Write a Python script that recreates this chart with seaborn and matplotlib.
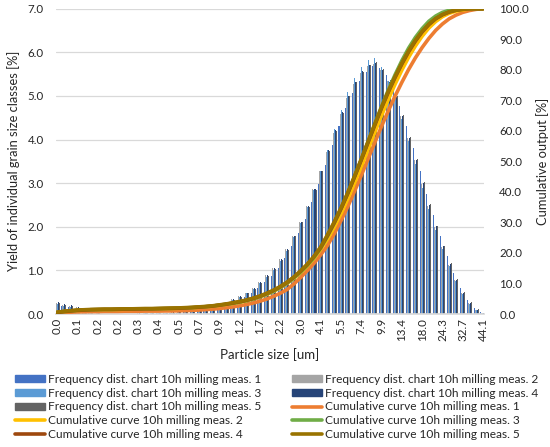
import matplotlib
matplotlib.use('Agg')
import matplotlib.pyplot as plt
import seaborn as sns
import pandas as pd
from matplotlib.patches import Patch
from matplotlib.lines import Line2D

# size classes: 64 classes, a label on every third one
n_classes = 64
size_labels = ['0.0', '0.1', '0.2', '0.2', '0.3', '0.4', '0.5', '0.7', '0.9', '1.2', '1.7',
               '2.2', '3.0', '4.1', '5.5', '7.4', '9.9', '13.4', '18.0', '24.3', '32.7', '44.1']

freq_meas1 = [0.22, 0.18, 0.15, 0.12, 0.06, 0.03, 0.01, 0.01, 0.01, 0.01, 0.01, 0.01, 0.01, 0.01, 0.01, 0.02,
              0.02, 0.02, 0.03, 0.04, 0.05, 0.07, 0.09, 0.12, 0.16, 0.21, 0.26, 0.32, 0.39, 0.48, 0.59, 0.73,
              0.88, 1.06, 1.28, 1.55, 1.85, 2.19, 2.57, 2.98, 3.42, 3.88, 4.32, 4.72, 5.06, 5.34, 5.55, 5.68,
              5.65, 5.48, 5.18, 4.78, 4.30, 3.80, 3.27, 2.76, 2.26, 1.78, 1.33, 0.93, 0.60, 0.33, 0.14, 0.04]
freq_meas2 = [0.26, 0.21, 0.19, 0.15, 0.08, 0.04, 0.02, 0.01, 0.01, 0.01, 0.01, 0.01, 0.02, 0.02, 0.02, 0.03,
              0.03, 0.04, 0.05, 0.06, 0.08, 0.10, 0.13, 0.17, 0.22, 0.28, 0.34, 0.41, 0.49, 0.60, 0.74, 0.90,
              1.06, 1.26, 1.50, 1.80, 2.12, 2.48, 2.86, 3.28, 3.72, 4.16, 4.58, 4.96, 5.28, 5.52, 5.68, 5.74,
              5.60, 5.34, 4.98, 4.54, 4.04, 3.52, 2.99, 2.48, 1.99, 1.54, 1.13, 0.78, 0.48, 0.26, 0.10, 0.03]
freq_meas3 = [0.24, 0.19, 0.17, 0.13, 0.07, 0.03, 0.02, 0.01, 0.01, 0.01, 0.01, 0.01, 0.01, 0.02, 0.02, 0.02,
              0.03, 0.03, 0.04, 0.05, 0.07, 0.09, 0.12, 0.16, 0.21, 0.27, 0.33, 0.40, 0.48, 0.58, 0.71, 0.86,
              1.01, 1.21, 1.45, 1.76, 2.08, 2.45, 2.85, 3.29, 3.76, 4.24, 4.68, 5.08, 5.42, 5.66, 5.82, 5.86,
              5.66, 5.35, 4.95, 4.48, 3.96, 3.43, 2.90, 2.40, 1.92, 1.48, 1.09, 0.75, 0.46, 0.24, 0.09, 0.02]
freq_meas4 = [0.28, 0.22, 0.20, 0.15, 0.08, 0.04, 0.02, 0.01, 0.01, 0.01, 0.01, 0.01, 0.02, 0.02, 0.02, 0.03,
              0.03, 0.04, 0.05, 0.06, 0.08, 0.10, 0.13, 0.17, 0.22, 0.28, 0.34, 0.41, 0.49, 0.59, 0.73, 0.89,
              1.05, 1.25, 1.49, 1.79, 2.11, 2.47, 2.86, 3.29, 3.75, 4.21, 4.63, 5.01, 5.33, 5.57, 5.72, 5.76,
              5.60, 5.33, 4.97, 4.53, 4.03, 3.52, 3.00, 2.50, 2.01, 1.56, 1.15, 0.79, 0.49, 0.26, 0.10, 0.03]
freq_meas5 = [0.25, 0.20, 0.18, 0.14, 0.07, 0.03, 0.02, 0.01, 0.01, 0.01, 0.01, 0.01, 0.01, 0.02, 0.02, 0.02,
              0.03, 0.03, 0.04, 0.05, 0.07, 0.09, 0.12, 0.16, 0.21, 0.27, 0.33, 0.40, 0.48, 0.58, 0.72, 0.88,
              1.03, 1.23, 1.47, 1.78, 2.10, 2.46, 2.85, 3.28, 3.74, 4.20, 4.62, 5.00, 5.32, 5.56, 5.72, 5.78,
              5.62, 5.36, 5.00, 4.56, 4.06, 3.55, 3.02, 2.52, 2.02, 1.57, 1.16, 0.80, 0.50, 0.27, 0.11, 0.03]

cum_meas1 = [0.3, 0.5, 0.6, 0.7, 0.75, 0.8, 0.8, 0.85, 0.85, 0.85, 0.9, 0.9, 0.9, 0.95, 0.95, 0.95,
             1.0, 1.0, 1.05, 1.1, 1.2, 1.3, 1.45, 1.6, 1.8, 2.05, 2.35, 2.7, 3.1, 3.6, 4.2, 4.9,
             5.8, 6.8, 8.0, 9.8, 11.9, 14.2, 16.6, 19.4, 22.5, 26.3, 30.6, 35.2, 40.2, 45.4, 50.8, 56.2,
             61.5, 66.6, 71.4, 75.9, 80.1, 83.9, 87.3, 90.3, 92.9, 95.0, 96.7, 97.9, 98.8, 99.4, 99.8, 100.0]
cum_meas2 = [0.5, 0.8, 1.0, 1.2, 1.3, 1.35, 1.4, 1.45, 1.45, 1.5, 1.55, 1.55, 1.6, 1.65, 1.65, 1.7,
             1.75, 1.8, 1.85, 1.95, 2.05, 2.2, 2.35, 2.55, 2.8, 3.1, 3.45, 3.85, 4.3, 4.9, 5.6, 6.4,
             7.4, 8.6, 10.0, 11.6, 13.5, 15.7, 18.2, 21.2, 24.5, 28.5, 32.9, 37.7, 42.9, 48.3, 53.9, 59.5,
             65.0, 70.3, 75.3, 79.9, 84.1, 87.8, 91.0, 93.7, 95.8, 97.4, 98.5, 99.2, 99.6, 99.9, 100.0, 100.0]
cum_meas3 = [0.5, 0.8, 1.0, 1.2, 1.3, 1.4, 1.45, 1.5, 1.5, 1.55, 1.6, 1.6, 1.65, 1.7, 1.7, 1.75,
             1.8, 1.85, 1.9, 2.0, 2.1, 2.25, 2.4, 2.6, 2.9, 3.2, 3.5, 3.9, 4.4, 5.0, 5.7, 6.5,
             7.5, 8.7, 10.1, 11.8, 13.7, 15.9, 18.5, 21.6, 25.5, 29.8, 34.5, 39.6, 45.0, 50.7, 56.5, 62.3,
             68.0, 73.4, 78.4, 83.0, 87.1, 90.6, 93.5, 95.9, 97.6, 98.8, 99.5, 99.8, 100.0, 100.0, 100.0, 100.0]
cum_meas4 = [0.5, 0.8, 1.0, 1.2, 1.3, 1.4, 1.45, 1.5, 1.5, 1.55, 1.6, 1.6, 1.65, 1.7, 1.7, 1.75,
             1.8, 1.85, 1.9, 2.0, 2.1, 2.25, 2.4, 2.6, 2.9, 3.2, 3.6, 4.0, 4.5, 5.1, 5.8, 6.7,
             7.7, 8.9, 10.3, 12.0, 14.0, 16.2, 18.8, 21.8, 25.7, 29.9, 34.5, 39.5, 44.9, 50.5, 56.2, 61.9,
             67.5, 72.7, 77.5, 81.9, 85.9, 89.4, 92.4, 94.8, 96.7, 98.0, 98.9, 99.5, 99.8, 100.0, 100.0, 100.0]
cum_meas5 = [0.6, 0.9, 1.1, 1.3, 1.4, 1.5, 1.55, 1.6, 1.6, 1.65, 1.7, 1.7, 1.75, 1.8, 1.8, 1.85,
             1.9, 1.95, 2.0, 2.1, 2.2, 2.35, 2.5, 2.7, 3.0, 3.3, 3.7, 4.1, 4.6, 5.2, 5.9, 6.8,
             7.8, 9.0, 10.4, 12.1, 14.1, 16.3, 18.9, 22.0, 26.0, 30.2, 34.8, 39.8, 45.2, 50.8, 56.5, 62.2,
             67.8, 73.0, 77.8, 82.2, 86.2, 89.7, 92.6, 95.0, 96.8, 98.1, 99.0, 99.5, 99.8, 100.0, 100.0, 100.0]

freq_names = [f'Frequency dist. chart 10h milling meas. {k}' for k in range(1, 6)]
cum_names = [f'Cumulative curve 10h milling meas. {k}' for k in range(1, 6)]
freq_series = [freq_meas1, freq_meas2, freq_meas3, freq_meas4, freq_meas5]
cum_series = [cum_meas1, cum_meas2, cum_meas3, cum_meas4, cum_meas5]
bar_colors = ['#4472C4', '#A5A5A5', '#5B9BD5', '#264478', '#636363']
line_colors = ['#ED7D31', '#FFC000', '#70AD47', '#9E480E', '#997300']

rows = []
for name, vals in zip(freq_names, freq_series):
    for i, v in enumerate(vals):
        rows.append((i, v, name))
df = pd.DataFrame(rows, columns=['cls', 'freq', 'series'])

sns.set_theme(style='white')
plt.rcParams['font.family'] = ['Lato', 'DejaVu Sans']
text_col = '#262626'
fs = 8.3

fig = plt.figure(figsize=(5.5, 4.47), dpi=100)
ax = fig.add_axes([0.102, 0.2975, 0.778, 0.683])

sns.barplot(data=df, x='cls', y='freq', hue='series', palette=bar_colors, width=0.75,
            saturation=1, errorbar=None, legend=False, linewidth=0, ax=ax, zorder=2)
ax.set_xlim(-0.15, n_classes - 1 + 0.15)
ax.set_ylim(0, 7)
ax.set_yticks([i for i in range(8)])
ax.set_yticklabels([f'{i:.1f}' for i in range(8)])
ax.set_xticks(list(range(0, n_classes, 3)))
ax.set_xticklabels(size_labels, rotation=90)
ax.yaxis.grid(True, color='#d9d9d9', lw=0.9, zorder=0)
ax.set_axisbelow(True)
for s in ['top', 'left', 'right']:
    ax.spines[s].set_visible(False)
ax.spines['bottom'].set_color('#d9d9d9')
ax.tick_params(axis='y', length=0, labelsize=fs, colors=text_col, pad=9)
ax.tick_params(axis='x', length=0, labelsize=fs, colors=text_col, pad=3)
ax.set_xlabel('Particle size [um]', fontsize=9.5, color=text_col, labelpad=5)
ax.set_ylabel('Yield of individual grain size classes [%]', fontsize=9.3, color=text_col, labelpad=5)

ax2 = ax.twinx()
for vals, c in zip(cum_series, line_colors):
    sns.lineplot(x=list(range(n_classes)), y=vals, color=c, lw=2.6, ax=ax2)
ax2.set_ylim(0, 100)
ax2.set_yticks([i * 10 for i in range(11)])
ax2.set_yticklabels([f'{i * 10:.1f}' for i in range(11)])
for s in ax2.spines.values():
    s.set_visible(False)
ax2.tick_params(axis='y', length=0, labelsize=fs, colors=text_col, pad=11)
ax2.set_ylabel('Cumulative output [%]', fontsize=9.3, color=text_col, rotation=90, labelpad=5)

handles = [Patch(color=c) for c in bar_colors] + [Line2D([], [], color=c, lw=2.6) for c in line_colors]
labels = freq_names + cum_names
order = [0, 2, 4, 6, 8, 1, 3, 5, 7, 9]
fig.legend([handles[i] for i in order], [labels[i] for i in order], ncol=2, loc='upper left',
           bbox_to_anchor=(0.027, 0.164), frameon=False, fontsize=8.6, labelcolor=text_col,
           handlelength=2.5, handleheight=0.55, handletextpad=0.25, columnspacing=2.6,
           labelspacing=0.24, borderaxespad=0, borderpad=0)

fig.savefig('out.png', dpi=100)
